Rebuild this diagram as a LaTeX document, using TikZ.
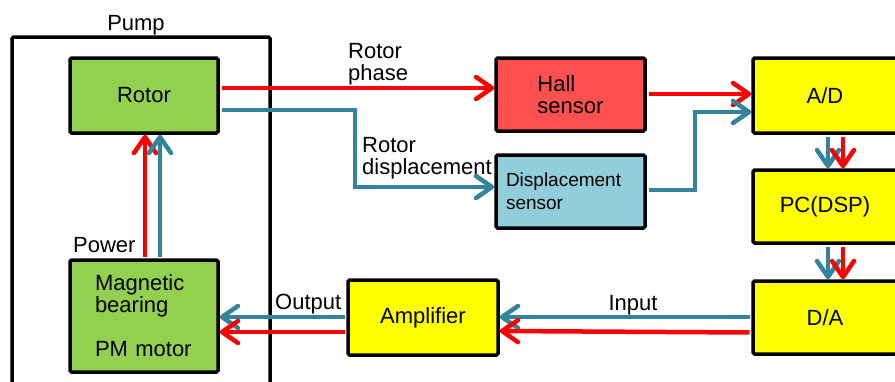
\documentclass[tikz,border=0pt]{standalone}
\usepackage{fontspec}
\setmainfont{Liberation Sans}
\usetikzlibrary{arrows.meta,calc}
\definecolor{cred}{RGB}{255,0,0}
\definecolor{cblue}{RGB}{49,132,155}
\definecolor{cgreen}{RGB}{146,208,80}
\definecolor{cyel}{RGB}{255,255,0}
\definecolor{chall}{RGB}{255,80,80}
\definecolor{cdisp}{RGB}{146,205,220}
\begin{document}
\begin{tikzpicture}[x=1pt,y=-1pt,
  box/.style={draw=black, line width=3.5pt, rounded corners=1.5pt, inner sep=0pt,
    font=\fontsize{22}{22}\selectfont},
  sig/.style={line width=4.5pt, shorten <=1.75pt,
    -{Straight Barb[length=16pt,width=22pt,line cap=round,line join=round]}},
  lbl/.style={inner sep=0pt, font=\fontsize{22}{22}\selectfont, align=left}]
\useasboundingbox (0,0) rectangle (895,381);
\clip (0,0) rectangle (895,381);
\fill[white] (0,0) rectangle (895,381);
% pump enclosure
\node[draw=black, line width=3.5pt, rounded corners=1.5pt, minimum width=258pt, minimum height=380pt] (pump) at (141,227) {};
\node[lbl, anchor=base] (pumplbl) at (136,30) {Pump};
% boxes
\node[box, fill=cgreen, minimum width=148pt, minimum height=75pt] (rotor) at (144,95.5) {Rotor};
\node[box, fill=cgreen, minimum width=148pt, minimum height=112pt, text width=98pt, align=left] (mag) at (144,316) {Magnetic\\bearing\\[22pt]PM motor};
\node[box, fill=chall, minimum width=149pt, minimum height=73pt, align=left] (hall) at (570.5,94.5) {Hall\\sensor};
\node[box, fill=cdisp, minimum width=149pt, minimum height=73pt, text width=129pt, align=left, font=\fontsize{19}{23}\selectfont] (disp) at (570.5,191.5) {Displacement\\sensor};
\node[box, fill=cyel, minimum width=144pt, minimum height=75pt] (ad) at (825,95.5) {A/D};
\node[box, fill=cyel, minimum width=144pt, minimum height=73pt] (pc) at (825,206.5) {PC(DSP)};
\node[box, fill=cyel, minimum width=144pt, minimum height=73pt] (da) at (825,317.5) {D/A};
\node[box, fill=cyel, minimum width=150pt, minimum height=75pt] (amp) at (423,317.5) {Amplifier};
% connectors
\coordinate (rp) at ($(rotor.east)+(0,-7.5)$);
\draw[sig, cred] (rp) -- (rp -| hall.west);
\coordinate (rdi) at ($(rotor.east)+(0,14.5)$);
\coordinate (di) at ($(disp.west)+(0,-4.5)$);
\draw[sig, cblue] (rdi) -| (355,187) -- (di);
\coordinate (ha) at ($(hall.east)+(0,-0.5)$);
\draw[sig, cred] (ha) -- (ha -| ad.west);
\coordinate (dse) at ($(disp.east)+(0,-1.5)$);
\draw[sig, cblue] (dse) -| (695,112) -- (ad.west |- 0,112);
\draw[sig, cblue] ($(ad.south)+(3,0)$) -- ($(pc.north)+(3,0)$);
\draw[sig, cred] ($(ad.south)+(18,0)$) -- ($(pc.north)+(18,0)$);
\draw[sig, cblue] ($(pc.south)+(3,0)$) -- ($(da.north)+(3,0)$);
\draw[sig, cred] ($(pc.south)+(18,0)$) -- ($(da.north)+(18,0)$);
\draw[sig, cblue] ($(da.west)+(0,-0.5)$) -- ($(amp.east)+(0,-0.5)$);
\draw[sig, cred] ($(da.west)+(0,15)$) -- ($(amp.east)+(0,13.5)$);
\draw[sig, cblue] ($(amp.west)+(0,-0.5)$) -- ($(mag.east)+(0,1)$);
\draw[sig, cred] ($(amp.west)+(0,14.5)$) -- ($(mag.east)+(0,16)$);
\draw[sig, cred] ($(mag.north)+(1,0)$) -- ($(rotor.south)+(1,0)$);
\draw[sig, cblue] ($(mag.north)+(16,0)$) -- ($(rotor.south)+(16,0)$);
% labels
\node[lbl, anchor=north west] (lphase) at (348,43) {Rotor\\phase};
\node[lbl, anchor=north west] (ldisp) at (362,137) {Rotor\\displacement};
\node[lbl, anchor=base west] (lpower) at (73,252) {Power};
\node[lbl, anchor=base west] (lout) at (275,309) {Output};
\node[lbl, anchor=base] (lin) at (633,310) {Input};
\end{tikzpicture}
\end{document}
